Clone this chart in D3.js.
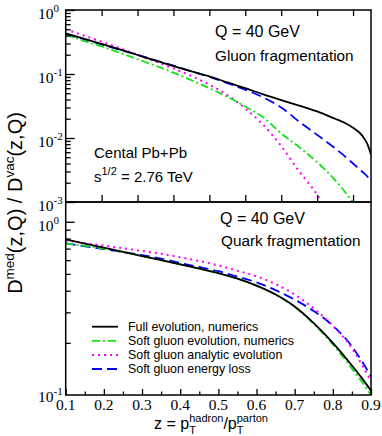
<!DOCTYPE html>
<html>
<head>
<meta charset="utf-8">
<script src="https://cdn.jsdelivr.net/npm/d3@7"></script>
<style>
  body { margin: 0; background: #fff; }
  text { fill: #000; }
</style>
</head>
<body>
<svg width="382" height="436"></svg>
<script>
// gluon fragmentation (top panel)
var zGluon = [0.1, 0.15, 0.2, 0.25, 0.3, 0.35, 0.4, 0.45, 0.5, 0.55, 0.6, 0.65, 0.7, 0.75, 0.8, 0.85, 0.875, 0.9, 0.925, 0.94, 0.95];
var gluonFull = [0.43, 0.358, 0.295, 0.242, 0.198, 0.162, 0.133, 0.11, 0.092, 0.074, 0.06, 0.048, 0.039, 0.032, 0.026, 0.02, 0.0175, 0.0145, 0.011, 0.008, 0.0055];
var gluonSoft = [0.41, 0.33, 0.27, 0.215, 0.17, 0.135, 0.105, 0.08, 0.06, 0.044, 0.031, 0.021, 0.0118, 0.0072, 0.0042, 0.0022, 0.0015, 0.00098, 0.0006, 0.00045, 0.0004];
var gluonAnalytic = [0.5, 0.4, 0.32, 0.255, 0.2, 0.157, 0.122, 0.093, 0.068, 0.047, 0.029, 0.016, 0.0075, 0.003, 0.0013, 0.0004, 0.0003, 0.0002, 0.0001, 0.0001, 0.0001];
var gluonEloss = [0.42, 0.35, 0.29, 0.24, 0.2, 0.163, 0.135, 0.11, 0.09, 0.072, 0.057, 0.043, 0.03, 0.018, 0.0112, 0.0069, 0.0053, 0.004, 0.003, 0.0025, 0.0021];

// quark fragmentation (bottom panel)
var zQuark = [0.1, 0.15, 0.2, 0.25, 0.3, 0.35, 0.4, 0.45, 0.5, 0.55, 0.6, 0.65, 0.7, 0.75, 0.8, 0.85, 0.875, 0.9];
var quarkFull = [0.79, 0.748, 0.708, 0.67, 0.634, 0.6, 0.567, 0.537, 0.505, 0.47, 0.428, 0.38, 0.324, 0.26, 0.2, 0.148, 0.126, 0.106];
var quarkSoft = [0.75, 0.725, 0.7, 0.668, 0.634, 0.6, 0.567, 0.537, 0.505, 0.47, 0.428, 0.38, 0.322, 0.257, 0.196, 0.142, 0.12, 0.1];
var quarkAnalytic = [0.78, 0.753, 0.728, 0.703, 0.679, 0.653, 0.624, 0.593, 0.56, 0.521, 0.484, 0.437, 0.38, 0.316, 0.251, 0.186, 0.151, 0.12];
var quarkEloss = [0.75, 0.722, 0.695, 0.668, 0.642, 0.612, 0.578, 0.548, 0.518, 0.482, 0.447, 0.403, 0.355, 0.305, 0.251, 0.191, 0.158, 0.128];

var seriesNames = ["Full evolution, numerics", "Soft gluon evolution, numerics", "Soft gluon analytic evolution", "Soft gluon energy loss"];
var xTickLabels = ["0.1", "0.2", "0.3", "0.4", "0.5", "0.6", "0.7", "0.8", "0.9"];

var styles = [
  {color: "#000", dash: null, width: 1.8},
  {color: "#14e014", dash: "8,3,2,3", width: 1.8},
  {color: "#ff00ff", dash: "2,4", width: 2},
  {color: "#0000ff", dash: "10,5", width: 1.8}
];

var serif = "Liberation Serif, DejaVu Serif, Times New Roman, serif",
    sans = "Liberation Sans, Arial, sans-serif";

var svg = d3.select("svg");
var left = 65.7, right = 371;

var xTop = d3.scaleLinear().domain([0.1, 0.95]).range([left, right]),
    xBot = d3.scaleLinear().domain([0.1, 0.9]).range([left, right]),
    yTop = d3.scaleLog().domain([1e-3, 1]).range([202, 10]),
    yBot = d3.scaleLog().domain([0.1, 1.3]).range([395, 202]);

var defs = svg.append("defs");
defs.append("clipPath").attr("id", "clipTop").append("rect")
    .attr("x", left).attr("y", 10).attr("width", right - left).attr("height", 192);
defs.append("clipPath").attr("id", "clipBot").append("rect")
    .attr("x", left).attr("y", 202).attr("width", right - left).attr("height", 193);

function drawCurves(zs, sets, x, y, clip) {
  var g = svg.append("g").attr("clip-path", "url(#" + clip + ")");
  // draw back to front so black sits on top
  [3, 2, 1, 0].forEach(function(i) {
    var line = d3.line()
        .x(function(d, k) { return x(zs[k]); })
        .y(function(d) { return y(d); })
        .curve(d3.curveMonotoneX);
    g.append("path")
        .attr("d", line(sets[i]))
        .attr("fill", "none")
        .attr("stroke", styles[i].color)
        .attr("stroke-width", styles[i].width)
        .attr("stroke-dasharray", styles[i].dash);
  });
}

drawCurves(zGluon, [gluonFull, gluonSoft, gluonAnalytic, gluonEloss], xTop, yTop, "clipTop");
drawCurves(zQuark, [quarkFull, quarkSoft, quarkAnalytic, quarkEloss], xBot, yBot, "clipBot");

// axes with inward ticks
function noLabels(a) { return a.tickFormat(""); }
function styleAxis(g) {
  g.select(".domain").remove();
  g.selectAll(".tick line").attr("stroke", "#000").attr("stroke-width", 1.3);
}

var topMinor = [], botMinor = [];
[1e-3, 1e-2, 1e-1].forEach(function(d) {
  for (var k = 2; k <= 9; k++) topMinor.push(d * k);
});
for (var k = 2; k <= 9; k++) botMinor.push(0.1 * k);

svg.append("g").attr("transform", "translate(" + left + ",0)")
    .call(noLabels(d3.axisLeft(yTop).tickValues([1e-3, 1e-2, 1e-1, 1]).tickSize(-9)))
    .call(styleAxis);
svg.append("g").attr("transform", "translate(" + left + ",0)")
    .call(noLabels(d3.axisLeft(yTop).tickValues(topMinor).tickSize(-5)))
    .call(styleAxis);
svg.append("g").attr("transform", "translate(" + left + ",0)")
    .call(noLabels(d3.axisLeft(yBot).tickValues([1]).tickSize(-9)))
    .call(styleAxis);
svg.append("g").attr("transform", "translate(" + left + ",0)")
    .call(noLabels(d3.axisLeft(yBot).tickValues(botMinor).tickSize(-5)))
    .call(styleAxis);

var topTicks = d3.range(0.2, 0.91, 0.1);
svg.append("g").attr("transform", "translate(0,10)")
    .call(noLabels(d3.axisTop(xTop).tickValues(topTicks).tickSize(-6)))
    .call(styleAxis);
svg.append("g").attr("transform", "translate(0,202)")
    .call(noLabels(d3.axisBottom(xTop).tickValues(topTicks).tickSize(-7)))
    .call(styleAxis);

svg.append("g").attr("transform", "translate(0,395)")
    .call(noLabels(d3.axisBottom(xBot).tickValues(d3.range(0.1, 0.91, 0.1)).tickSize(-6)))
    .call(styleAxis);
svg.append("g").attr("transform", "translate(0,395)")
    .call(noLabels(d3.axisBottom(xBot).tickValues(d3.range(0.15, 0.9, 0.1)).tickSize(-3.5)))
    .call(styleAxis);

// frames
svg.append("rect").attr("x", left).attr("y", 10).attr("width", right - left).attr("height", 192)
    .attr("fill", "none").attr("stroke", "#000").attr("stroke-width", 1.5);
svg.append("rect").attr("x", left).attr("y", 202).attr("width", right - left).attr("height", 193)
    .attr("fill", "none").attr("stroke", "#000").attr("stroke-width", 1.5);

// y tick labels 10^n
function powLabel(y, exp) {
  var t = svg.append("text")
      .attr("x", 38).attr("y", y)
      .attr("font-family", serif).attr("font-size", 15.5);
  t.append("tspan").text("10");
  t.append("tspan").attr("dy", -7).attr("font-size", 11).text(exp);
}
[[1, "0"], [1e-1, "-1"], [1e-2, "-2"], [1e-3, "-3"]].forEach(function(d) {
  powLabel(yTop(d[0]) + 9, d[1]);
});
powLabel(yBot(1) + 9, "0");
powLabel(yBot(0.1) + 7, "-1");

// x tick labels
svg.append("g").selectAll("text")
  .data(xTickLabels)
  .enter().append("text")
    .attr("x", function(d) { return xBot(+d); })
    .attr("y", 410)
    .attr("text-anchor", "middle")
    .attr("font-family", serif)
    .attr("font-size", 15.5)
    .text(function(d) { return d; });

// panel annotations
function label(x, y, size, str) {
  return svg.append("text").attr("x", x).attr("y", y)
      .attr("font-family", sans).attr("font-size", size).text(str);
}
label(215, 37, 16, "Q = 40 GeV");
label(215, 61, 15.3, "Gluon fragmentation");
label(94, 158, 15, "Cental Pb+Pb");
var s = label(94, 182, 15, "s");
s.append("tspan").attr("dy", -7).attr("font-size", 11).text("1/2");
s.append("tspan").attr("dy", 7).text(" = 2.76 TeV");
label(220, 224, 16, "Q = 40 GeV");
label(221, 246, 15.3, "Quark fragmentation");

// legend
var legend = svg.append("g").selectAll("g")
  .data(seriesNames)
  .enter().append("g")
    .attr("transform", function(d, i) { return "translate(92," + (326.7 + i * 14.1) + ")"; });
legend.append("line")
    .attr("x1", 0).attr("x2", 26)
    .attr("stroke", function(d, i) { return styles[i].color; })
    .attr("stroke-width", function(d, i) { return styles[i].width; })
    .attr("stroke-dasharray", function(d, i) { return styles[i].dash; });
legend.append("text")
    .attr("x", 36).attr("y", 4)
    .attr("font-family", sans).attr("font-size", 12.4)
    .text(function(d) { return d; });

// x axis title: z = p_T^hadron / p_T^parton
var xt = svg.append("text").attr("x", 154).attr("y", 429)
    .attr("font-family", sans).attr("font-size", 16);
function subSup(parent, sub, sup) {
  var tsub = parent.append("tspan").attr("dy", 5).attr("font-size", 11).text(sub);
  var w = tsub.node().getComputedTextLength();
  parent.append("tspan").attr("dx", -w).attr("dy", -12).attr("font-size", 11).text(sup);
}
xt.append("tspan").text("z = p");
subSup(xt, "T", "hadron");
xt.append("tspan").attr("dy", 7).text("/p");
subSup(xt, "T", "parton");

// y axis title
var yt = svg.append("text")
    .attr("transform", "translate(22,203) rotate(-90)")
    .attr("text-anchor", "middle")
    .attr("font-family", sans).attr("font-size", 20);
yt.append("tspan").text("D");
yt.append("tspan").attr("dy", -8).attr("font-size", 13.5).text("med");
yt.append("tspan").attr("dy", 8).text("(z,Q) / D");
yt.append("tspan").attr("dy", -8).attr("font-size", 13.5).text("vac");
yt.append("tspan").attr("dy", 8).text("(z,Q)");
</script>
</body>
</html>
